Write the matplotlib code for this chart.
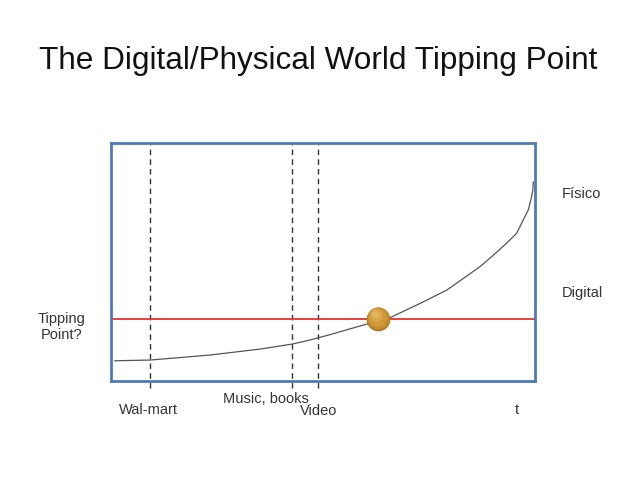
import matplotlib.pyplot as plt
import matplotlib.transforms as mtransforms

plt.rcParams['font.family'] = ['Liberation Sans', 'DejaVu Sans']

# time axis 0..100, adoption level 0..100
curve_t = [0.9, 9.2, 23.3, 35.1, 42.7, 46.9, 51.7, 58.7, 63.0, 65.8, 72.9, 79.2,
           87.0, 90.2, 93.3, 95.7, 97.2, 98.4, 99.2, 99.5, 99.6]
curve_y = [8.5, 8.8, 10.9, 13.4, 15.5, 17.2, 19.5, 23.1, 25.2, 26.6, 32.6, 38.2,
           48.0, 52.9, 57.9, 62.1, 67.6, 71.8, 77.4, 80.3, 83.6]

milestones = ['Wal-mart', 'Music, books', 'Video']
milestone_t = [9.2, 42.7, 48.8]

tipping_level = 26.1
tipping_t = 63.0

fig = plt.figure(figsize=(6.38, 4.79), dpi=100)
ax = fig.add_axes([111 / 638, 98 / 479, 424 / 638, 238 / 479])
ax.set_xlim(0, 100)
ax.set_ylim(0, 100)
ax.set_xticks([])
ax.set_yticks([])
for s in ax.spines.values():
    s.set_color('#4f7ab8')
    s.set_linewidth(2)

# dashed milestone lines, running a little below the box
for t in milestone_t:
    ax.plot([t, t], [-3, 100], color='#333333', lw=1, ls=(0, (4, 3)), clip_on=False)

ax.axhline(tipping_level, color='#e8312d', lw=1.3)
ax.plot(curve_t, curve_y, color='#555555', lw=0.9)

# golden ball at the crossing point
base = [('#a8741c', 17, 0, 0), ('#c48d2e', 16, 0, 0.5), ('#d09a3a', 13, -0.8, 1.5),
        ('#d9a74a', 9, -1.5, 2.5), ('#e2b65e', 5, -2, 3.5)]
for col, ms, dx, dy in base:
    off = mtransforms.ScaledTranslation(dx / 72, dy / 72, fig.dpi_scale_trans)
    ax.plot([tipping_t], [tipping_level], 'o', ms=ms, color=col, mec='none',
            transform=ax.transData + off, zorder=5)

fig.text(318 / 638, 1 - 61 / 479, 'The Digital/Physical World Tipping Point',
         ha='center', va='center', fontsize=22.7, color='#111111')

lab = dict(fontsize=10.5, color='#333333', va='center')
fig.text(148 / 638, 1 - 410 / 479, milestones[0], ha='center', **lab)
fig.text(266 / 638, 1 - 399 / 479, milestones[1], ha='center', **lab)
fig.text(319 / 638, 1 - 411 / 479, milestones[2], ha='center', **lab)
fig.text(517 / 638, 1 - 410 / 479, 't', ha='center', **lab)
fig.text(581 / 638, 1 - 194 / 479, 'Físico', ha='center', **lab)
fig.text(582 / 638, 1 - 293 / 479, 'Digital', ha='center', **lab)
fig.text(62 / 638, 1 - 327 / 479, 'Tipping\nPoint?', ha='center', linespacing=1.2, **lab)

fig.savefig('out.png', dpi=100)
